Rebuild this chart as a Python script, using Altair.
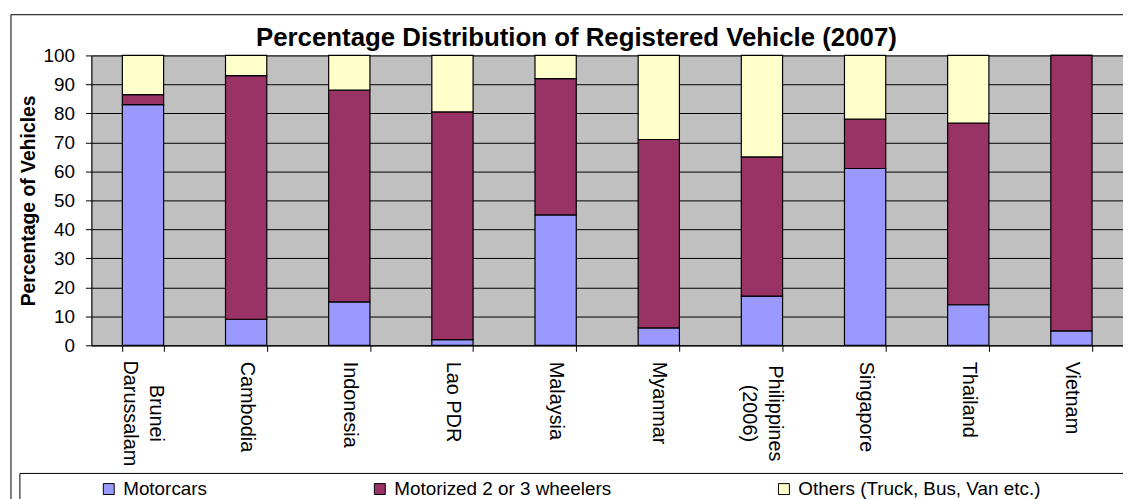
import altair as alt
import pandas as pd

countries = ["Brunei\nDarussalam", "Cambodia", "Indonesia", "Lao PDR", "Malaysia",
             "Myanmar", "Philippines\n(2006)", "Singapore", "Thailand", "Vietnam"]
series = ["Motorcars", "Motorized 2 or 3 wheelers", "Others (Truck, Bus, Van etc.)"]
motorcars = [83, 9, 15, 2, 45, 6, 17, 61, 14, 5]
motorized = [3.5, 84, 73, 78.5, 47, 65, 48, 17, 62.7, 95]
others = [13.5, 7, 12, 19.5, 8, 29, 35, 22, 23.3, 0]
colors = ["#9999FF", "#993366", "#FFFFCC"]
y_ticks = list(range(0, 101, 10))

rows = []
for si, (name, vals) in enumerate(zip(series, [motorcars, motorized, others])):
    for c, v in zip(countries, vals):
        rows.append({"country": c, "series": name, "value": v, "idx": si})
df = pd.DataFrame(rows)

FONT = "Liberation Sans"
multi = "test(/\\n/, '' + datum.label)"
xscale = alt.Scale(paddingInner=0.6, paddingOuter=0.3)
yscale = alt.Scale(domain=[0, 100], nice=False)


def y_axis():
    return alt.Axis(values=y_ticks, title="Percentage of Vehicles",
                    titleFontSize=19.5, titleFont=FONT, titleFontWeight="bold",
                    titleColor="black", titleX=-57, titleY=146, titleAngle=270,
                    titleAlign="center", titleBaseline="alphabetic",
                    labelFontSize=19, labelFont=FONT, labelColor="black",
                    labelPadding=11, tickSize=6, tickColor="black",
                    domainColor="black", gridColor="black", gridWidth=1, grid=True)


bars = alt.Chart(df).mark_bar(stroke="black", strokeWidth=1.2).encode(
    x=alt.X("country:N", sort=countries, scale=xscale,
            axis=alt.Axis(title=None, orient="bottom", labelAngle=90, labelFontSize=20,
                          labelFont=FONT, labelColor="black",
                          labelExpr="(" + multi + ") ? '' : datum.label",
                          labelAlign="left", labelPadding=10,
                          labelBaseline="middle", labelLimit=400,
                          labelOverlap=False, tickBand="extent", tickSize=6,
                          tickColor="black", domainColor="black", grid=False)),
    y=alt.Y("sum(value):Q", stack="zero", scale=yscale, axis=y_axis()),
    color=alt.Color("series:N", scale=alt.Scale(domain=series, range=colors),
                    legend=alt.Legend(title=None, orient="none", legendX=8, legendY=427,
                                      direction="horizontal", columnPadding=164,
                                      symbolType="square", symbolSize=121,
                                      symbolStrokeColor="black", symbolStrokeWidth=1,
                                      labelFontSize=19, labelFont=FONT, labelColor="black",
                                      labelLimit=400, labelOffset=5, padding=0)),
    order=alt.Order("idx:Q"),
)

# second (label-only) axis for the two-line category names, centred like the original
two_line = alt.Chart(df).mark_bar(opacity=0).encode(
    x=alt.X("country:N", sort=countries, scale=xscale,
            axis=alt.Axis(title=None, orient="bottom", labelAngle=90, labelFontSize=20,
                          labelFont=FONT, labelColor="black",
                          labelExpr="(" + multi + ") ? split(datum.label, '\\n') : ''",
                          labelAlign="center", labelPadding=68, labelOffset=13,
                          labelBaseline="middle", labelLineHeight=26, labelLimit=400,
                          labelOverlap=False, ticks=False, domain=False, grid=False)),
    y=alt.Y("sum(value):Q", stack="zero", scale=yscale, axis=y_axis()),
)

box = pd.DataFrame({"k": [0]})
chart_border = alt.Chart(box).mark_rect(fillOpacity=0, stroke="black", strokeWidth=1).encode(
    x=alt.value(-81), x2=alt.value(1200), y=alt.value(-41), y2=alt.value(600))
legend_border = alt.Chart(box).mark_rect(fillOpacity=0, stroke="black", strokeWidth=1).encode(
    x=alt.value(-72), x2=alt.value(1200), y=alt.value(421), y2=alt.value(600))

chart = alt.layer(bars, two_line, chart_border, legend_border).resolve_axis(
    x="independent"
).properties(
    width=1039, height=292,
    padding={"left": 84, "top": 46, "right": 0, "bottom": 153},
    autosize=alt.AutoSizeParams(type="none"),
    view=alt.ViewBackground(fill="#C0C0C0", stroke="#808080"),
    title=alt.TitleParams(text="Percentage Distribution of Registered Vehicle (2007)",
                          fontSize=26, font=FONT, fontWeight="bold", color="black",
                          anchor="middle", frame="group", dx=-31, offset=-37.5),
).configure_view(fill="#C0C0C0", stroke="#808080").configure(background="white")

chart.save("out.html", embed_options={"renderer": "svg", "actions": False})
